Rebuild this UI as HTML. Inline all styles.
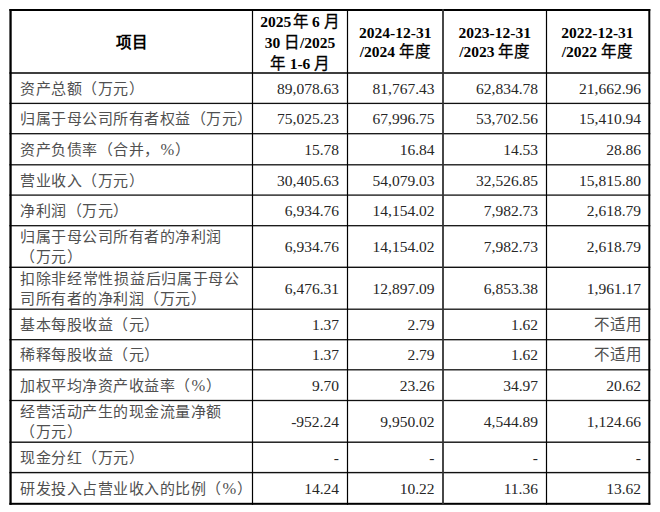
<!DOCTYPE html>
<html lang="zh-CN"><head><meta charset="utf-8">
<style>
html,body{margin:0;padding:0;background:#fff;}
body{width:660px;height:512px;position:relative;overflow:hidden;font-family:"Liberation Serif",serif;font-size:15.5px;color:#000;}
svg{position:absolute;left:0;top:0;}
.c{position:absolute;box-sizing:border-box;display:flex;align-items:center;white-space:nowrap;}
.hd{justify-content:center;text-align:center;font-weight:bold;line-height:19px;padding-top:0.5px;}
.h1{line-height:21px;}
.h0{padding-top:1.5px;}
.lb{justify-content:flex-start;padding-left:8.5px;padding-top:2px;line-height:20.5px;color:#505050;letter-spacing:0.5px;font-size:15px;}
.nv{justify-content:flex-end;padding-right:8.5px;padding-top:1.4px;color:#262626;}
.j{letter-spacing:0.7px;}
.c4{padding-right:7.3px;}
.k{font-weight:normal;-webkit-text-stroke:0.3px #000;}
.pc{display:inline-block;width:15.5px;text-align:center;letter-spacing:0;font-size:16.5px;}
.cj{padding-top:2px;line-height:20.5px;color:#505050;padding-right:6.8px;}
</style></head><body>
<svg width="660" height="512" viewBox="0 0 660 512">
<rect x="9.4" y="9.0" width="640.9" height="2.0" fill="#000"/>
<rect x="9.4" y="72.20" width="640.9" height="1.6" fill="#111"/>
<rect x="9.4" y="102.75" width="640.9" height="1.3" fill="#111"/>
<rect x="9.4" y="133.05" width="640.9" height="1.3" fill="#111"/>
<rect x="9.4" y="164.15" width="640.9" height="1.3" fill="#111"/>
<rect x="9.4" y="194.45" width="640.9" height="1.3" fill="#111"/>
<rect x="9.4" y="225.05" width="640.9" height="1.3" fill="#111"/>
<rect x="9.4" y="266.60" width="640.9" height="1.4" fill="#111"/>
<rect x="9.4" y="308.55" width="640.9" height="1.3" fill="#111"/>
<rect x="9.4" y="339.05" width="640.9" height="1.3" fill="#111"/>
<rect x="9.4" y="369.15" width="640.9" height="1.3" fill="#111"/>
<rect x="9.4" y="399.85" width="640.9" height="1.3" fill="#111"/>
<rect x="9.4" y="441.50" width="640.9" height="1.4" fill="#111"/>
<rect x="9.4" y="471.90" width="640.9" height="1.4" fill="#111"/>
<rect x="9.4" y="502.8" width="640.9" height="2.0" fill="#000"/>
<rect x="9.4" y="9.0" width="2.3" height="495.8" fill="#000"/>
<rect x="251.90" y="9.0" width="1.2" height="495.8" fill="#000"/>
<rect x="346.90" y="9.0" width="1.2" height="495.8" fill="#000"/>
<rect x="442.10" y="9.0" width="1.8" height="495.8" fill="#333"/>
<rect x="545.90" y="9.0" width="1.2" height="495.8" fill="#000"/>
<rect x="648.3" y="9.0" width="2.0" height="495.8" fill="#000"/>
</svg>
<div class="c hd h0" style="left:11.5px;top:10.0px;width:241.00px;height:64.00px"><div>项目</div></div>
<div class="c hd h1" style="left:252.5px;top:10.0px;width:95.00px;height:64.00px"><div>2025<span style="margin-left:1.9px"></span><span class="k">年</span><span style="margin-left:3.1px"></span>6<span style="margin-left:4.0px"></span><span class="k">月</span><br>30 <span class="k">日</span>/2025<br><span class="k">年</span> 1-6 <span class="k">月</span></div></div>
<div class="c hd" style="left:347.5px;top:10.0px;width:95.50px;height:64.00px"><div>2024-12-31<br>/2024 <span class="k">年度</span></div></div>
<div class="c hd" style="left:443.0px;top:10.0px;width:103.50px;height:64.00px"><div>2023-12-31<br>/2023 <span class="k">年度</span></div></div>
<div class="c hd" style="left:546.5px;top:10.0px;width:101.80px;height:64.00px"><div>2022-12-31<br>/2022 <span class="k">年度</span></div></div>
<div class="c lb" style="left:11.5px;top:73.0px;width:241.00px;height:30.40px"><div>资产总额（万元）</div></div>
<div class="c nv" style="left:252.5px;top:73.0px;width:95.00px;height:30.40px"><div>89,078.63</div></div>
<div class="c nv" style="left:347.5px;top:73.0px;width:95.50px;height:30.40px"><div>81,767.43</div></div>
<div class="c nv" style="left:443.0px;top:73.0px;width:103.50px;height:30.40px"><div>62,834.78</div></div>
<div class="c nv c4" style="left:546.5px;top:73.0px;width:101.80px;height:30.40px"><div>21,662.96</div></div>
<div class="c lb" style="left:11.5px;top:103.4px;width:241.00px;height:30.30px"><div>归属于母公司所有者权益（万元）</div></div>
<div class="c nv" style="left:252.5px;top:103.4px;width:95.00px;height:30.30px"><div>75,025.23</div></div>
<div class="c nv" style="left:347.5px;top:103.4px;width:95.50px;height:30.30px"><div>67,996.75</div></div>
<div class="c nv" style="left:443.0px;top:103.4px;width:103.50px;height:30.30px"><div>53,702.56</div></div>
<div class="c nv c4" style="left:546.5px;top:103.4px;width:101.80px;height:30.30px"><div>15,410.94</div></div>
<div class="c lb" style="left:11.5px;top:133.7px;width:241.00px;height:31.10px"><div>资产负债率（合并，<span class="pc">%</span>）</div></div>
<div class="c nv" style="left:252.5px;top:133.7px;width:95.00px;height:31.10px"><div>15.78</div></div>
<div class="c nv" style="left:347.5px;top:133.7px;width:95.50px;height:31.10px"><div>16.84</div></div>
<div class="c nv" style="left:443.0px;top:133.7px;width:103.50px;height:31.10px"><div>14.53</div></div>
<div class="c nv c4" style="left:546.5px;top:133.7px;width:101.80px;height:31.10px"><div>28.86</div></div>
<div class="c lb" style="left:11.5px;top:164.8px;width:241.00px;height:30.30px"><div>营业收入（万元）</div></div>
<div class="c nv" style="left:252.5px;top:164.8px;width:95.00px;height:30.30px"><div>30,405.63</div></div>
<div class="c nv" style="left:347.5px;top:164.8px;width:95.50px;height:30.30px"><div>54,079.03</div></div>
<div class="c nv" style="left:443.0px;top:164.8px;width:103.50px;height:30.30px"><div>32,526.85</div></div>
<div class="c nv c4" style="left:546.5px;top:164.8px;width:101.80px;height:30.30px"><div>15,815.80</div></div>
<div class="c lb" style="left:11.5px;top:195.1px;width:241.00px;height:30.60px"><div>净利润（万元）</div></div>
<div class="c nv" style="left:252.5px;top:195.1px;width:95.00px;height:30.60px"><div>6,934.76</div></div>
<div class="c nv" style="left:347.5px;top:195.1px;width:95.50px;height:30.60px"><div>14,154.02</div></div>
<div class="c nv" style="left:443.0px;top:195.1px;width:103.50px;height:30.60px"><div>7,982.73</div></div>
<div class="c nv c4" style="left:546.5px;top:195.1px;width:101.80px;height:30.60px"><div>2,618.79</div></div>
<div class="c lb" style="left:11.5px;top:225.7px;width:241.00px;height:41.60px"><div>归属于母公司所有者的净利润<br>（万元）</div></div>
<div class="c nv" style="left:252.5px;top:225.7px;width:95.00px;height:41.60px"><div>6,934.76</div></div>
<div class="c nv" style="left:347.5px;top:225.7px;width:95.50px;height:41.60px"><div>14,154.02</div></div>
<div class="c nv" style="left:443.0px;top:225.7px;width:103.50px;height:41.60px"><div>7,982.73</div></div>
<div class="c nv c4" style="left:546.5px;top:225.7px;width:101.80px;height:41.60px"><div>2,618.79</div></div>
<div class="c lb" style="left:11.5px;top:267.3px;width:241.00px;height:41.90px"><div><span class="j">扣除非经常性损益后归属于母公</span><br>司所有者的净利润（万元）</div></div>
<div class="c nv" style="left:252.5px;top:267.3px;width:95.00px;height:41.90px"><div>6,476.31</div></div>
<div class="c nv" style="left:347.5px;top:267.3px;width:95.50px;height:41.90px"><div>12,897.09</div></div>
<div class="c nv" style="left:443.0px;top:267.3px;width:103.50px;height:41.90px"><div>6,853.38</div></div>
<div class="c nv c4" style="left:546.5px;top:267.3px;width:101.80px;height:41.90px"><div>1,961.17</div></div>
<div class="c lb" style="left:11.5px;top:309.2px;width:241.00px;height:30.50px"><div>基本每股收益（元）</div></div>
<div class="c nv" style="left:252.5px;top:309.2px;width:95.00px;height:30.50px"><div>1.37</div></div>
<div class="c nv" style="left:347.5px;top:309.2px;width:95.50px;height:30.50px"><div>2.79</div></div>
<div class="c nv" style="left:443.0px;top:309.2px;width:103.50px;height:30.50px"><div>1.62</div></div>
<div class="c nv c4 cj" style="left:546.5px;top:309.2px;width:101.80px;height:30.50px"><div>不适用</div></div>
<div class="c lb" style="left:11.5px;top:339.7px;width:241.00px;height:30.10px"><div>稀释每股收益（元）</div></div>
<div class="c nv" style="left:252.5px;top:339.7px;width:95.00px;height:30.10px"><div>1.37</div></div>
<div class="c nv" style="left:347.5px;top:339.7px;width:95.50px;height:30.10px"><div>2.79</div></div>
<div class="c nv" style="left:443.0px;top:339.7px;width:103.50px;height:30.10px"><div>1.62</div></div>
<div class="c nv c4 cj" style="left:546.5px;top:339.7px;width:101.80px;height:30.10px"><div>不适用</div></div>
<div class="c lb" style="left:11.5px;top:369.8px;width:241.00px;height:30.70px"><div>加权平均净资产收益率（<span class="pc">%</span>）</div></div>
<div class="c nv" style="left:252.5px;top:369.8px;width:95.00px;height:30.70px"><div>9.70</div></div>
<div class="c nv" style="left:347.5px;top:369.8px;width:95.50px;height:30.70px"><div>23.26</div></div>
<div class="c nv" style="left:443.0px;top:369.8px;width:103.50px;height:30.70px"><div>34.97</div></div>
<div class="c nv c4" style="left:546.5px;top:369.8px;width:101.80px;height:30.70px"><div>20.62</div></div>
<div class="c lb" style="left:11.5px;top:400.5px;width:241.00px;height:41.70px"><div>经营活动产生的现金流量净额<br>（万元）</div></div>
<div class="c nv" style="left:252.5px;top:400.5px;width:95.00px;height:41.70px"><div>-952.24</div></div>
<div class="c nv" style="left:347.5px;top:400.5px;width:95.50px;height:41.70px"><div>9,950.02</div></div>
<div class="c nv" style="left:443.0px;top:400.5px;width:103.50px;height:41.70px"><div>4,544.89</div></div>
<div class="c nv c4" style="left:546.5px;top:400.5px;width:101.80px;height:41.70px"><div>1,124.66</div></div>
<div class="c lb" style="left:11.5px;top:442.2px;width:241.00px;height:30.40px"><div>现金分红（万元）</div></div>
<div class="c nv" style="left:252.5px;top:442.2px;width:95.00px;height:30.40px"><div>-</div></div>
<div class="c nv" style="left:347.5px;top:442.2px;width:95.50px;height:30.40px"><div>-</div></div>
<div class="c nv" style="left:443.0px;top:442.2px;width:103.50px;height:30.40px"><div>-</div></div>
<div class="c nv c4" style="left:546.5px;top:442.2px;width:101.80px;height:30.40px"><div>-</div></div>
<div class="c lb" style="left:11.5px;top:472.6px;width:241.00px;height:31.20px"><div>研发投入占营业收入的比例（<span class="pc">%</span>）</div></div>
<div class="c nv" style="left:252.5px;top:472.6px;width:95.00px;height:31.20px"><div>14.24</div></div>
<div class="c nv" style="left:347.5px;top:472.6px;width:95.50px;height:31.20px"><div>10.22</div></div>
<div class="c nv" style="left:443.0px;top:472.6px;width:103.50px;height:31.20px"><div>11.36</div></div>
<div class="c nv c4" style="left:546.5px;top:472.6px;width:101.80px;height:31.20px"><div>13.62</div></div>
</body></html>
